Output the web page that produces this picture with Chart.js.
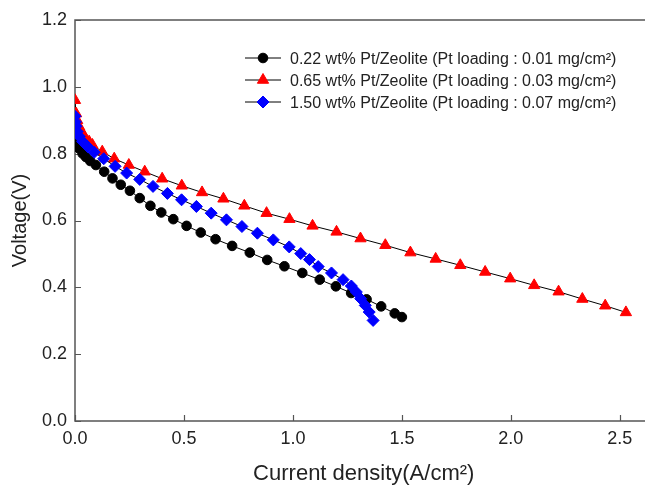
<!DOCTYPE html>
<html><head><meta charset="utf-8">
<script src="https://cdn.jsdelivr.net/npm/chart.js@4.4.1/dist/chart.umd.min.js"></script>
<style>
html,body{margin:0;padding:0;background:#fff;overflow:hidden;}
#wrap{position:relative;width:660px;height:485px;}
</style></head><body>
<div id="wrap"><canvas id="c"></canvas></div>
<script>
// ---- data ----
const seriesLabels = [
  '0.22 wt% Pt/Zeolite (Pt loading : 0.01 mg/cm²)',
  '0.65 wt% Pt/Zeolite (Pt loading : 0.03 mg/cm²)',
  '1.50 wt% Pt/Zeolite (Pt loading : 0.07 mg/cm²)'
];
const currentBlack = [0.0, 0.002, 0.005, 0.01, 0.02, 0.035, 0.05, 0.07, 0.096, 0.134, 0.172, 0.21, 0.252, 0.297, 0.346, 0.396, 0.451, 0.512, 0.577, 0.645, 0.721, 0.802, 0.882, 0.961, 1.043, 1.123, 1.197, 1.267, 1.338, 1.405, 1.467, 1.50];
const voltageBlack = [0.88, 0.86, 0.845, 0.83, 0.815, 0.80, 0.79, 0.778, 0.766, 0.746, 0.726, 0.707, 0.689, 0.667, 0.644, 0.624, 0.604, 0.584, 0.564, 0.544, 0.524, 0.504, 0.482, 0.463, 0.443, 0.423, 0.403, 0.383, 0.364, 0.343, 0.322, 0.311];
const currentRed = [0.0, 0.005, 0.01, 0.02, 0.03, 0.045, 0.065, 0.08, 0.125, 0.18, 0.247, 0.32, 0.40, 0.49, 0.583, 0.681, 0.777, 0.879, 0.984, 1.09, 1.20, 1.31, 1.424, 1.539, 1.655, 1.768, 1.882, 1.997, 2.107, 2.219, 2.328, 2.433, 2.528];
const voltageRed = [0.96, 0.92, 0.90, 0.88, 0.865, 0.85, 0.836, 0.826, 0.806, 0.785, 0.766, 0.746, 0.725, 0.704, 0.684, 0.665, 0.644, 0.622, 0.604, 0.584, 0.566, 0.546, 0.526, 0.504, 0.485, 0.466, 0.446, 0.426, 0.406, 0.387, 0.365, 0.345, 0.325];
const currentBlue = [0.0, 0.002, 0.005, 0.01, 0.02, 0.035, 0.058, 0.088, 0.132, 0.184, 0.237, 0.297, 0.358, 0.424, 0.489, 0.557, 0.625, 0.695, 0.766, 0.837, 0.910, 0.983, 1.036, 1.076, 1.116, 1.177, 1.230, 1.268, 1.291, 1.311, 1.332, 1.350, 1.368];
const voltageBlue = [0.912, 0.895, 0.882, 0.866, 0.851, 0.836, 0.821, 0.804, 0.785, 0.762, 0.742, 0.723, 0.702, 0.681, 0.662, 0.642, 0.622, 0.602, 0.582, 0.562, 0.542, 0.521, 0.501, 0.483, 0.462, 0.443, 0.423, 0.404, 0.386, 0.366, 0.346, 0.326, 0.301];
const xTickValues = [0, 0.5, 1.0, 1.5, 2.0, 2.5];
const yTickValues = [0, 0.2, 0.4, 0.6, 0.8, 1.0, 1.2];
const xTitle = 'Current density(A/cm²)';
const yTitle = 'Voltage(V)';

const toPts = (xs, ys) => xs.map((x, i) => ({x: x, y: ys[i]}));

Chart.defaults.font.family = '"Liberation Sans", Arial, sans-serif';
Chart.defaults.color = '#222';

const framePlugin = {
  id: 'frame',
  beforeDatasetsDraw(chart) {
    const {ctx, chartArea: a, scales} = chart;
    ctx.save();
    ctx.strokeStyle = '#555';
    ctx.lineWidth = 1.5;
    ctx.strokeRect(a.left, a.top, a.right - a.left, a.bottom - a.top);
    ctx.beginPath();
    scales.x.ticks.forEach(t => {
      const px = Math.round(scales.x.getPixelForValue(t.value)) + 0.5;
      ctx.moveTo(px, a.bottom); ctx.lineTo(px, a.bottom - 6);
    });
    scales.y.ticks.forEach(t => {
      const py = Math.round(scales.y.getPixelForValue(t.value)) + 0.5;
      ctx.moveTo(a.left, py); ctx.lineTo(a.left + 6, py);
    });
    ctx.lineWidth = 1.2;
    ctx.stroke();
    ctx.restore();
  }
};

const legendPlugin = {
  id: 'inLegend',
  afterDraw(chart) {
    const ctx = chart.ctx;
    chart.data.datasets.forEach((ds, i) => {
      const yy = 59 + i * 22;
      ctx.save();
      ctx.strokeStyle = '#000';
      ctx.lineWidth = 1;
      ctx.beginPath(); ctx.moveTo(245, yy - 1); ctx.lineTo(281, yy - 1); ctx.stroke();
      ctx.fillStyle = ds.pointBackgroundColor;
      ctx.strokeStyle = ds.pointBorderColor;
      ctx.lineWidth = 1;
      Chart.helpers.drawPoint(ctx, {pointStyle: ds.pointStyle, radius: ds.pointRadius, borderWidth: 1, rotation: 0}, 263, yy - 1);
      ctx.fillStyle = '#222';
      ctx.font = '16px "Liberation Sans", Arial, sans-serif';
      ctx.textBaseline = 'middle';
      ctx.textAlign = 'left';
      ctx.fillText(ds.label, 290, yy + 1);
      ctx.restore();
    });
  }
};

new Chart(document.getElementById('c'), {
  type: 'scatter',
  data: {
    datasets: [
      {label: seriesLabels[0], data: toPts(currentBlack, voltageBlack), order: 2,
       pointStyle: 'circle', pointRadius: 4.8, pointBackgroundColor: '#000', pointBorderColor: '#000', pointBorderWidth: 1},
      {label: seriesLabels[1], data: toPts(currentRed, voltageRed), order: 1,
       pointStyle: 'triangle', pointRadius: 6.5, pointBackgroundColor: '#ff0000', pointBorderColor: '#ff0000', pointBorderWidth: 1},
      {label: seriesLabels[2], data: toPts(currentBlue, voltageBlue), order: 0,
       pointStyle: 'rectRot', pointRadius: 6, pointBackgroundColor: '#0000ff', pointBorderColor: '#0000ff', pointBorderWidth: 1}
    ].map(d => Object.assign(d, {showLine: true, borderColor: '#000', borderWidth: 1, tension: 0, pointHoverRadius: d.pointRadius}))
  },
  options: {
    responsive: true,
    maintainAspectRatio: false,
    animation: false,
    devicePixelRatio: 1,
    layout: {padding: {left: 8, top: 20, right: 0, bottom: 0}},
    plugins: {legend: {display: false}, tooltip: {enabled: false}},
    scales: {
      x: {
        type: 'linear', min: 0, max: 2.65,
        afterBuildTicks: s => { s.ticks = xTickValues.map(v => ({value: v})); },
        afterFit: s => { s.height = 64; },
        grid: {display: false, drawTicks: false},
        border: {display: false},
        ticks: {font: {size: 18}, color: '#222', padding: 7, maxRotation: 0, autoSkip: false,
                callback: v => Number(v).toFixed(1)},
        title: {display: true, text: xTitle, font: {size: 22}, color: '#222', padding: {top: 4, bottom: -2}}
      },
      y: {
        type: 'linear', min: 0, max: 1.2,
        afterBuildTicks: s => { s.ticks = yTickValues.map(v => ({value: v})); },
        afterFit: s => { s.width = 67; },
        grid: {display: false, drawTicks: false},
        border: {display: false},
        ticks: {font: {size: 18}, color: '#222', padding: 8, autoSkip: false,
                callback: v => Number(v).toFixed(1)},
        title: {display: true, text: yTitle, font: {size: 20}, color: '#222', padding: 0}
      }
    }
  },
  plugins: [framePlugin, legendPlugin]
});
</script>
</body></html>
